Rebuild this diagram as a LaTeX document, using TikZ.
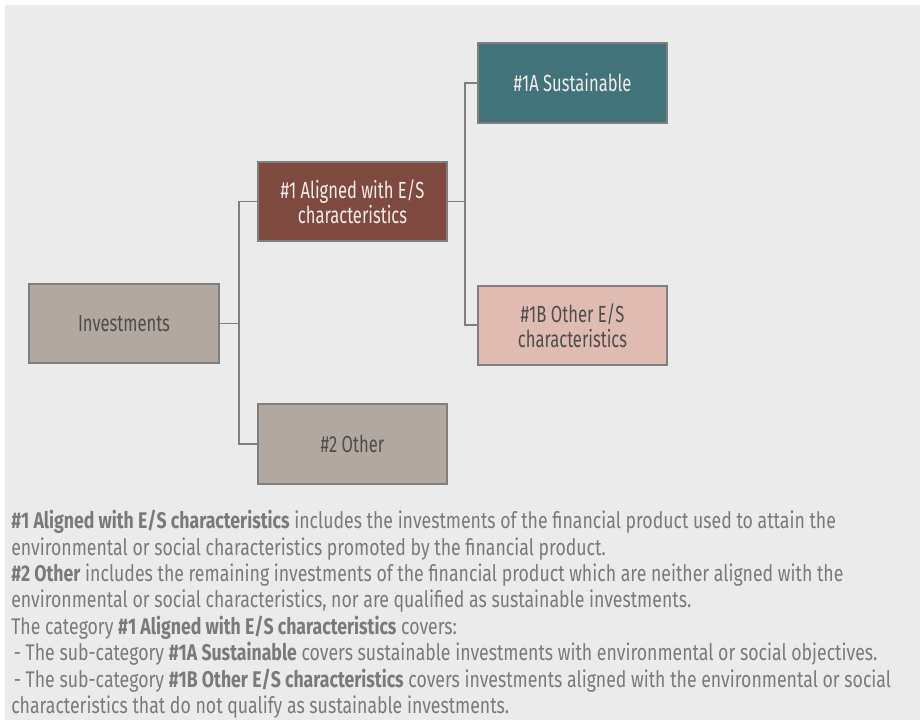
\documentclass[tikz,border=0pt]{standalone}
\usepackage{fontspec}
\setmainfont{Fira Sans}[FakeStretch=0.78]
\newfontfamily\boxfont{Fira Sans}[FakeStretch=0.71]
\usetikzlibrary{positioning}

\definecolor{bggray}{HTML}{EBEBEB}
\definecolor{linegray}{HTML}{7F7F7F}
\definecolor{taupe}{HTML}{B3A89F}
\definecolor{brick}{HTML}{7E4A40}
\definecolor{teal}{HTML}{42727A}
\definecolor{blush}{HTML}{E0BBB2}
\definecolor{darktext}{HTML}{4D4D4D}
\definecolor{lighttext}{HTML}{F2ECEA}
\definecolor{notetext}{HTML}{7A7A7A}

\begin{document}
\begin{tikzpicture}
[x=0.75pt,y=-0.75pt,
node distance=120.75pt,
box/.style={shape=rectangle,draw=linegray,line width=1.5pt,inner sep=0pt,
  minimum width=142pt,minimum height=59.5pt,align=center,
  font=\boxfont\fontsize{17.5}{18.75}\selectfont},
darkbox/.style={box,text=darktext},
lightbox/.style={box,text=lighttext},
link/.style={draw=linegray,line width=1.3pt},
notes/.style={inner sep=0pt,align=left,text=notetext,
  font=\fontsize{17}{19.8}\selectfont}]

\useasboundingbox (0,0) rectangle (920,720);
\fill[bggray] (5,5) rectangle (920,720);

\node (inv) [darkbox,fill=taupe] at (124,323.5) {Investments};
\node (al) [lightbox,fill=brick] at (352.5,201.5) {\#1 Aligned with E/S\\characteristics};
\node (oth2) [darkbox,fill=taupe,below=of al] {\#2 Other};
\node (sus) [lightbox,fill=teal] at (572.5,83) {\#1A Sustainable};
\node (oth1b) [darkbox,fill=blush,below=of sus] {\#1B Other E/S\\characteristics};

\coordinate (busl) at (239,0);
\coordinate (busr) at (465,0);
\draw[link] (inv.east) -- (inv.east -| busl);
\draw[link] (al.west) -- (al.west -| busl) |- (oth2.west);
\draw[link] (al.east) -- (al.east -| busr);
\draw[link] (sus.west) -- (sus.west -| busr) |- (oth1b.west);

\node (txt) [notes,anchor=north west] at (11,510) {%
\textbf{\#1 Aligned with E/S characteristics} includes the investments of the financial product used to attain the\\
environmental or social characteristics promoted by the financial product.\\
\textbf{\#2 Other} includes the remaining investments of the financial product which are neither aligned with the\\
environmental or social characteristics, nor are qualified as sustainable investments.\\
The category \textbf{\#1 Aligned with E/S characteristics} covers:\\
\hspace{2pt}- The sub-category \textbf{\#1A Sustainable} covers sustainable investments with environmental or social objectives.\\
\hspace{2pt}- The sub-category \textbf{\#1B Other E/S characteristics} covers investments aligned with the environmental or social\\
characteristics that do not qualify as sustainable investments.};

\end{tikzpicture}
\end{document}
